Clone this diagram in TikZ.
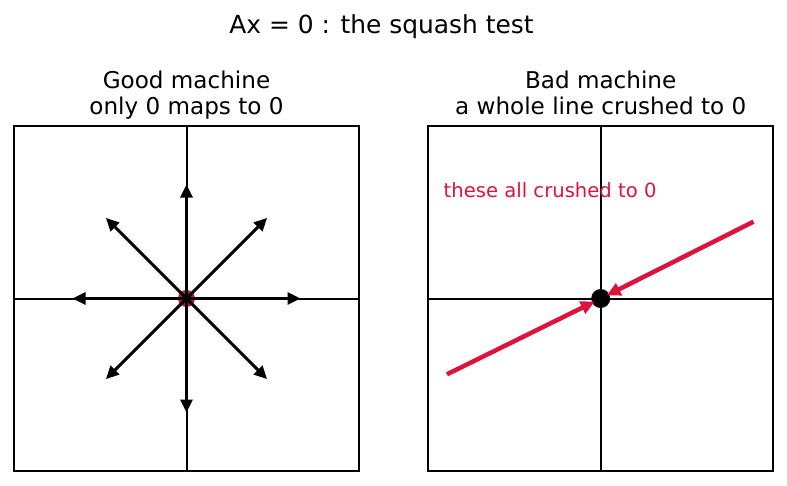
\documentclass[tikz,border=0pt]{standalone}
\usepackage{fontspec}
\setmainfont{DejaVu Sans}
\usetikzlibrary{arrows.meta}
\definecolor{crim}{RGB}{220,20,60}
\definecolor{dotred}{RGB}{190,20,70}
\begin{document}
\begin{tikzpicture}[x=1pt,y=-1pt,
  panelbox/.style={draw=black,line width=2.5pt,minimum width=345pt,minimum height=345pt,inner sep=0pt},
  axisline/.style={draw=black,line width=2pt},
  vec/.style={draw=black,line width=3pt,-{Triangle[length=13pt,width=12pt]}},
  redvec/.style={draw=crim,line width=4.5pt,-{Triangle[length=14pt,width=13pt]}},
  maintitle/.style={font=\fontsize{24.9pt}{30pt}\selectfont,anchor=base,inner sep=0pt},
  subtitle/.style={font=\fontsize{23.1pt}{26.2pt}\selectfont,anchor=base,inner sep=0pt},
  note/.style={font=\fontsize{19.6pt}{23pt}\selectfont,text=crim,anchor=base west,inner sep=0pt}
]
\useasboundingbox (0,0) rectangle (787,485);

% titles
\node[maintitle] (title) at (381.5,33.3) {Ax = 0 : the squash test};
\node[subtitle] (lt1) at (186.5,88.3) {Good machine};
\node[subtitle] (lt2) at (186.5,114.5) {only 0 maps to 0};
\node[subtitle] (rt1) at (600.7,88.3) {Bad machine};
\node[subtitle] (rt2) at (600.7,114.5) {a whole line crushed to 0};

% ---------- left panel ----------
\coordinate (L) at (186.5,298.5);
\node[panelbox] (lbox) at (L) {};
\draw[axisline] (lbox.west) -- (lbox.east);
\draw[axisline] (lbox.north) -- (lbox.south);
\node[circle,fill=dotred,minimum size=17pt,inner sep=0pt] (ldot) at (L) {};
\foreach \ang [count=\i] in {0,45,90,135,180,225,270,315}{
  \coordinate (tip\i) at ([shift={(\ang:114)}]L);
  \draw[vec] (ldot.center) -- (tip\i);
}

% ---------- right panel ----------
\coordinate (R) at (600.7,298.5);
\node[panelbox] (rbox) at (R) {};
\draw[axisline] (rbox.west) -- (rbox.east);
\draw[axisline] (rbox.north) -- (rbox.south);
\node[circle,fill=black,minimum size=19pt,inner sep=0pt] (rdot) at (R) {};
\coordinate (rs1) at (447,374.3);
\coordinate (rs2) at (753.5,221.7);
\coordinate (re1) at (594.8,301.5);
\coordinate (re2) at (606.6,295.5);
\draw[redvec] (rs1) -- (re1);
\draw[redvec] (rs2) -- (re2);
\node[note] (crushed) at (443.5,197.3) {these all crushed to 0};
\end{tikzpicture}
\end{document}
